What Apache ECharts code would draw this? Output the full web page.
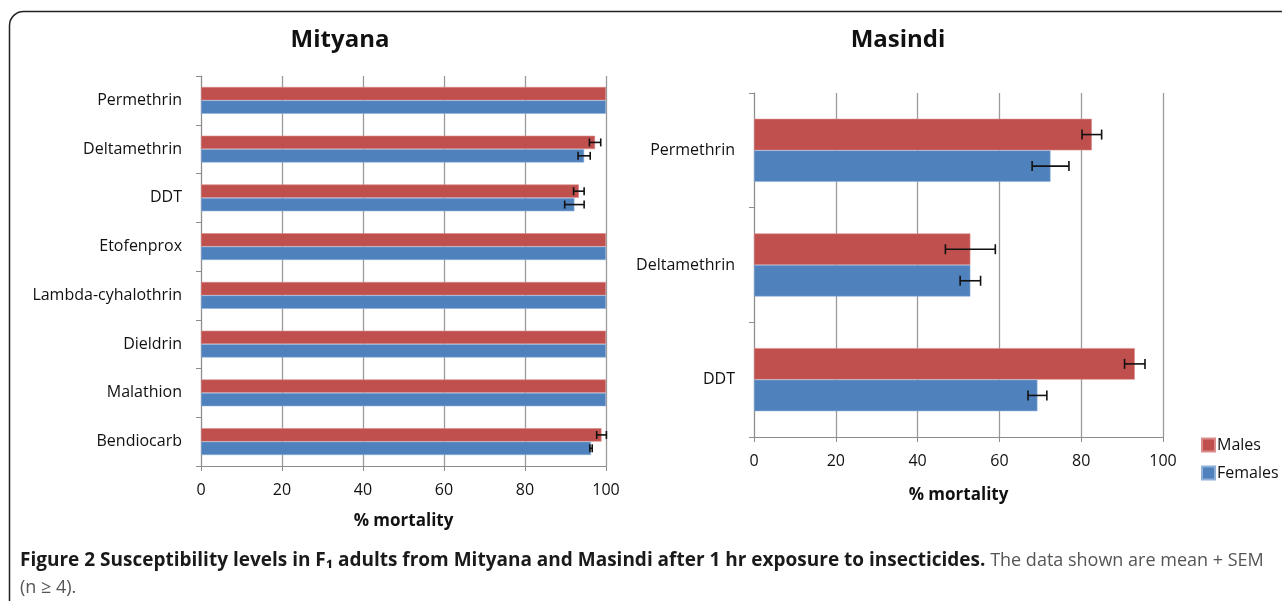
<!DOCTYPE html>
<html>
<head>
<meta charset="utf-8">
<script src="https://cdn.jsdelivr.net/npm/echarts@6/dist/echarts.min.js"></script>
<style>
  html, body { margin: 0; padding: 0; background: #fff; }
  #chart { width: 1282px; height: 601px; }
</style>
</head>
<body>
<div id="chart"></div>
<script>
// Mityana
const mityanaCats = ['Permethrin', 'Deltamethrin', 'DDT', 'Etofenprox', 'Lambda-cyhalothrin', 'Dieldrin', 'Malathion', 'Bendiocarb']
const mityanaMales = [100, 97.3, 93.3, 100, 100, 100, 100, 98.9]
const mityanaFemales = [100, 94.6, 92.2, 100, 100, 100, 100, 96.3]
const mityanaMalesSem = [0, 1.4, 1.3, 0, 0, 0, 0, 1.2]
const mityanaFemalesSem = [0, 1.5, 2.4, 0, 0, 0, 0, 0.3]

// Masindi
const masindiCats = ['Permethrin', 'Deltamethrin', 'DDT']
const masindiMales = [82.6, 52.9, 93.1]
const masindiFemales = [72.5, 52.9, 69.3]
const masindiMalesSem = [2.4, 6.1, 2.5]
const masindiFemalesSem = [4.5, 2.5, 2.3]

const RED = '#C0504D'
const BLUE = '#4F81BD'
const FONT = 'Open Sans'
const GAP = 0.45

const chart = echarts.init(document.getElementById('chart'))

function errData(vals, sems) {
  return vals.map((v, i) => [v, i, sems[i]])
}

// error bar: sign -1 = upper bar (males), +1 = lower bar (females)
function errRender(sign, cap) {
  return function (params, api) {
    const val = api.value(0)
    const cat = api.value(1)
    const sem = api.value(2)
    if (!sem) return
    const band = api.size([0, 1])[1]
    const barW = band * (1 - GAP) / 2
    const y = api.coord([val, cat])[1] + sign * barW / 2
    const x1 = api.coord([val - sem, cat])[0]
    const x2 = api.coord([val + sem, cat])[0]
    const st = { stroke: '#111', lineWidth: 1.6 }
    return {
      type: 'group',
      children: [
        { type: 'line', shape: { x1: x1, y1: y, x2: x2, y2: y }, style: st },
        { type: 'line', shape: { x1: x1, y1: y - cap, x2: x1, y2: y + cap }, style: st },
        { type: 'line', shape: { x1: x2, y1: y - cap, x2: x2, y2: y + cap }, style: st }
      ]
    }
  }
}

function xAxisCfg(gi) {
  return {
    gridIndex: gi,
    type: 'value',
    min: 0,
    max: 100,
    interval: 20,
    name: '% mortality',
    nameLocation: 'middle',
    nameGap: gi === 0 ? 47 : 50,
    nameTextStyle: { fontFamily: FONT, fontSize: 17, fontWeight: 'bold', color: '#111' },
    axisLine: { show: true, lineStyle: { color: '#8c8c8c', width: 1 } },
    axisTick: { show: true, length: 5, lineStyle: { color: '#8c8c8c' } },
    axisLabel: { fontFamily: FONT, fontSize: 16, color: '#111', margin: 16 },
    splitLine: { show: true, lineStyle: { color: '#9a9a9a', width: 1.3 } }
  }
}

function yAxisCfg(gi, cats) {
  return {
    gridIndex: gi,
    type: 'category',
    data: cats,
    inverse: true,
    axisLine: { show: true, lineStyle: { color: '#8c8c8c', width: 1 } },
    axisTick: { show: true, length: 5, lineStyle: { color: '#8c8c8c' } },
    axisLabel: { fontFamily: FONT, fontSize: 16, color: '#111', margin: 19 },
    splitLine: { show: false }
  }
}

function barSeries(name, color, gi, data) {
  return {
    name: name,
    type: 'bar',
    xAxisIndex: gi,
    yAxisIndex: gi,
    data: data,
    barGap: '0%',
    barCategoryGap: (GAP * 100) + '%',
    itemStyle: { color: color, borderColor: color === RED ? '#d98c8a' : '#8fb0d8', borderWidth: 0.6 }
  }
}

function errSeries(gi, vals, sems, sign, cap) {
  return {
    type: 'custom',
    xAxisIndex: gi,
    yAxisIndex: gi,
    data: errData(vals, sems),
    encode: { x: 0, y: 1 },
    renderItem: errRender(sign, cap),
    z: 5,
    clip: false,
    silent: true
  }
}

chart.setOption({
  animation: false,
  backgroundColor: '#fff',
  textStyle: { fontFamily: FONT },
  grid: [
    { left: 201, width: 405, top: 76, height: 390 },
    { left: 754, width: 409, top: 93, height: 344 }
  ],
  xAxis: [xAxisCfg(0), xAxisCfg(1)],
  yAxis: [yAxisCfg(0, mityanaCats), yAxisCfg(1, masindiCats)],
  legend: {
    data: ['Males', 'Females'],
    orient: 'vertical',
    left: 1196,
    top: 432,
    itemWidth: 13,
    itemHeight: 13,
    itemGap: 12,
    icon: 'rect',
    textStyle: { fontFamily: FONT, fontSize: 16, color: '#111', padding: [0, 0, 0, -3] }
  },
  graphic: [
    {
      type: 'rect',
      shape: { x: 9.5, y: 11.5, width: 1320, height: 640, r: 14 },
      style: { fill: 'none', stroke: '#222', lineWidth: 1.5 },
      silent: true
    },
    {
      type: 'text',
      style: { x: 340, y: 40, text: 'Mityana', align: 'center', verticalAlign: 'middle',
        font: 'bold 24px "Open Sans"', fill: '#111' }
    },
    {
      type: 'text',
      style: { x: 898, y: 40, text: 'Masindi', align: 'center', verticalAlign: 'middle',
        font: 'bold 24px "Open Sans"', fill: '#111' }
    },
    {
      type: 'text',
      style: {
        x: 20, y: 547,
        text: '{b|Figure 2 Susceptibility levels in F₁ adults from Mityana and Masindi after 1 hr exposure to insecticides.}{r| The data shown are mean + SEM}\n{r|(n ≥ 4).}',
        rich: {
          b: { fontFamily: FONT, fontSize: 19, fontWeight: 'bold', fill: '#1a1a1a', lineHeight: 27 },
          r: { fontFamily: FONT, fontSize: 18, fill: '#555', lineHeight: 27 }
        }
      }
    }
  ],
  series: [
    barSeries('Males', RED, 0, mityanaMales),
    barSeries('Females', BLUE, 0, mityanaFemales),
    barSeries('Males', RED, 1, masindiMales),
    barSeries('Females', BLUE, 1, masindiFemales),
    errSeries(0, mityanaMales, mityanaMalesSem, -1, 4),
    errSeries(0, mityanaFemales, mityanaFemalesSem, 1, 4),
    errSeries(1, masindiMales, masindiMalesSem, -1, 5),
    errSeries(1, masindiFemales, masindiFemalesSem, 1, 5)
  ]
})
</script>
</body>
</html>
